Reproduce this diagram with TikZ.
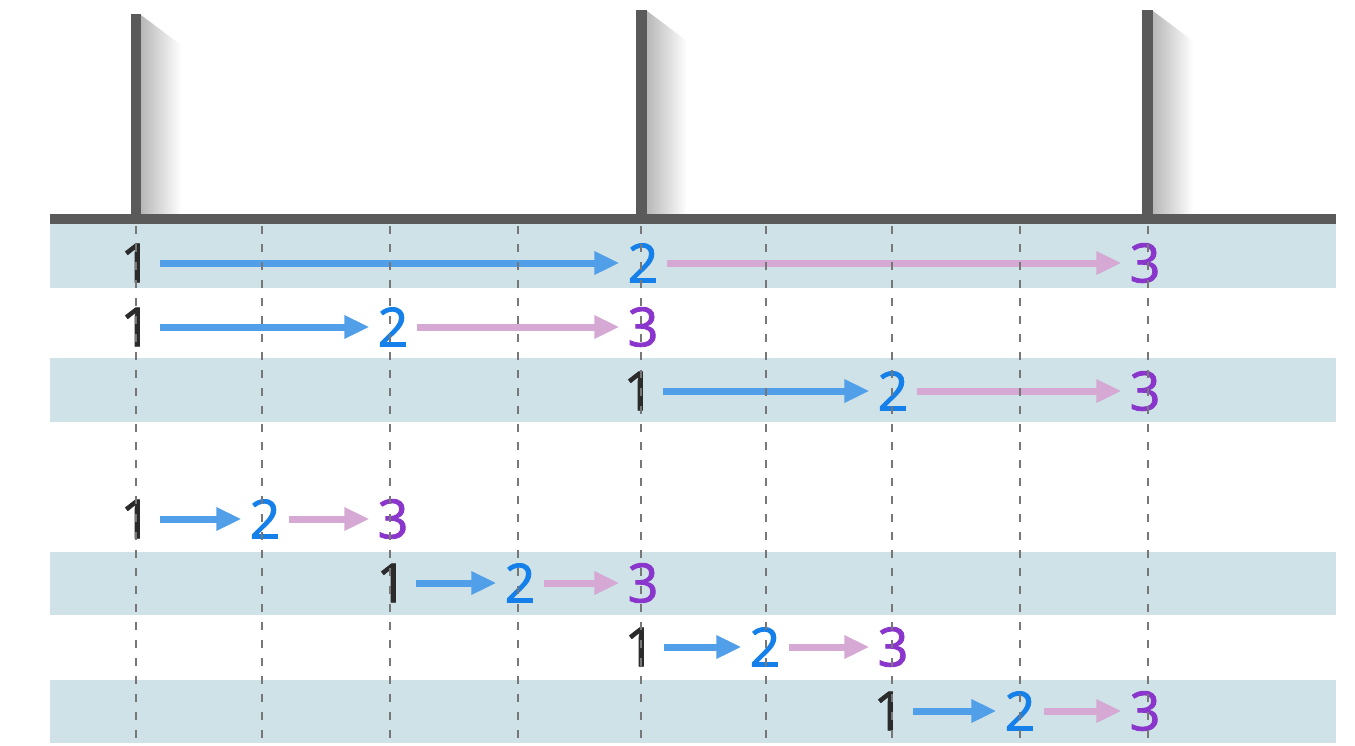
\documentclass[tikz,border=0pt]{standalone}
\usepackage{fontspec}
\setmainfont{Open Sans}
\newfontfamily\numfont{Open Sans}[FakeBold=1.6]
\usetikzlibrary{arrows.meta, positioning}
\definecolor{postGray}{HTML}{5A5A5A}
\definecolor{bandBlue}{HTML}{CFE2E8}
\definecolor{stepBlack}{HTML}{2B2B2B}
\definecolor{stepBlue}{HTML}{1580EA}
\definecolor{stepPurple}{HTML}{8A35CC}
\definecolor{arrowBlue}{HTML}{519FE9}
\definecolor{arrowPink}{HTML}{D5A9D4}
\definecolor{gridGray}{HTML}{777777}

\begin{document}
\begin{tikzpicture}[x=1pt, y=-1pt,
            num/.style={inner sep=8pt, font=\numfont\fontsize{54}{54}\selectfont},
            numone/.style={num, text=stepBlack},
            numtwo/.style={num, text=stepBlue},
            numthree/.style={num, text=stepPurple},
            blueArrow/.style={-{Triangle[length=25pt, width=22pt]}, line width=7pt, arrowBlue},
            pinkArrow/.style={-{Triangle[length=25pt, width=22pt]}, line width=7pt, arrowPink},
            band/.style={fill=bandBlue},
            gridline/.style={gridGray, line width=1.3pt, dash pattern=on 8pt off 10pt}
        ]
            \useasboundingbox (0,0) rectangle (1355,745);

            % Bands
            \fill[band] (50,224) rectangle (1336,288);
            \fill[band] (50,358) rectangle (1336,422);
            \fill[band] (50,552) rectangle (1336,615);
            \fill[band] (50,680) rectangle (1336,743);

            % Posts with shadows
            \shade[left color=black!28, right color=white] (141,15) -- (181,45) -- (181,214) -- (141,214) -- cycle;
            \shade[left color=black!28, right color=white] (647,11) -- (687,41) -- (687,214) -- (647,214) -- cycle;
            \shade[left color=black!28, right color=white] (1153,11) -- (1193,41) -- (1193,214) -- (1153,214) -- cycle;
            \fill[postGray] (131,14) rectangle (141,218);
            \fill[postGray] (636,10) rectangle (647,218);
            \fill[postGray] (1142,10) rectangle (1153,218);

            % Ground
            \fill[postGray] (50,214) rectangle (1336,224);

            % Row 1
            \node[numone] (a1) at (136,263) {1};
            \node[numtwo] (a2) at (643,263) {2};
            \node[numthree] (a3) at (1145,263) {3};
            % Row 2
            \node[numone] (b1) at (136,327) {1};
            \node[numtwo] (b2) at (393,327) {2};
            \node[numthree] (b3) at (643,327) {3};
            % Row 3
            \node[numone] (c1) at (639,391) {1};
            \node[numtwo] (c2) at (893,391) {2};
            \node[numthree] (c3) at (1145,391) {3};
            % Row 4
            \node[numone] (d1) at (136,519) {1};
            \node[numtwo] (d2) at (265,519) {2};
            \node[numthree] (d3) at (393,519) {3};
            % Row 5
            \node[numone] (e1) at (392,583) {1};
            \node[numtwo] (e2) at (520,583) {2};
            \node[numthree] (e3) at (643,583) {3};
            % Row 6
            \node[numone] (f1) at (640,647) {1};
            \node[numtwo] (f2) at (765,647) {2};
            \node[numthree] (f3) at (893,647) {3};
            % Row 7
            \node[numone] (g1) at (889,711) {1};
            \node[numtwo] (g2) at (1020,711) {2};
            \node[numthree] (g3) at (1145,711) {3};

            % Arrows
            \draw[blueArrow] (a1) -- (a2);
            \draw[pinkArrow] (a2) -- (a3);
            \draw[blueArrow] (b1) -- (b2);
            \draw[pinkArrow] (b2) -- (b3);
            \draw[blueArrow] (c1) -- (c2);
            \draw[pinkArrow] (c2) -- (c3);
            \draw[blueArrow] (d1) -- (d2);
            \draw[pinkArrow] (d2) -- (d3);
            \draw[blueArrow] (e1) -- (e2);
            \draw[pinkArrow] (e2) -- (e3);
            \draw[blueArrow] (f1) -- (f2);
            \draw[pinkArrow] (f2) -- (f3);
            \draw[blueArrow] (g1) -- (g2);
            \draw[pinkArrow] (g2) -- (g3);

            % Grid lines
            \foreach \x in {136, 262, 390, 518, 641, 766, 892, 1020, 1148}
                \draw[gridline] (\x,226) -- (\x,745);
        \end{tikzpicture}
\end{document}
